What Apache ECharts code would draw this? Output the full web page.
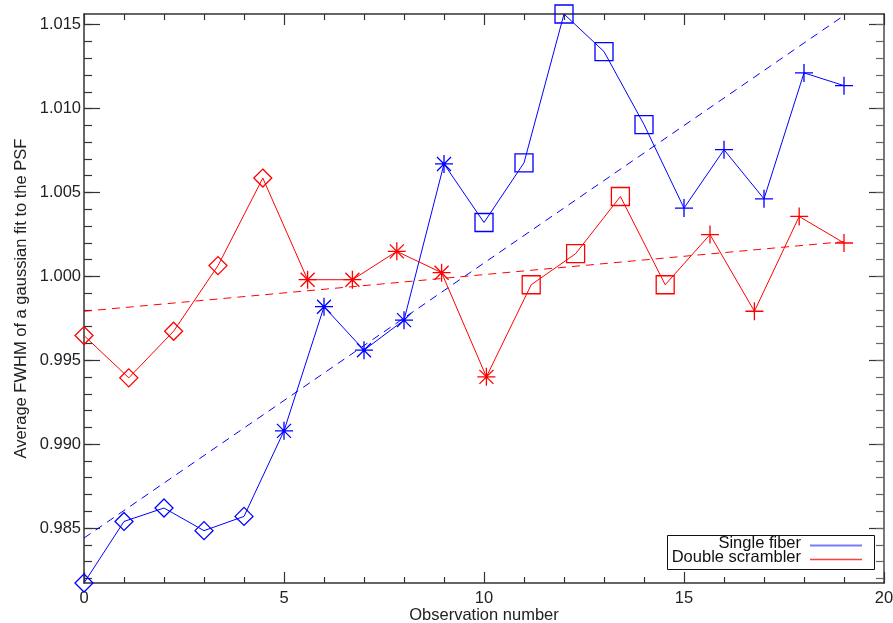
<!DOCTYPE html>
<html><head><meta charset="utf-8">
<script src="https://cdn.jsdelivr.net/npm/echarts@6/dist/echarts.min.js"></script>
<style>html,body{margin:0;padding:0;background:#fff}#c{width:893px;height:623px}</style>
</head><body><div id="c"></div>
<script>
// ---- data ----
const blueX = [0, 1, 2, 3, 4, 5, 6, 7, 8, 9, 10, 11, 12, 13, 14, 15, 16, 17, 18, 19];
const blueY = [0.98172, 0.98539, 0.98619, 0.98484, 0.98569, 0.99079, 0.99819, 0.99560, 0.99739, 1.00670,
               1.00321, 1.00677, 1.01564, 1.01340, 1.00905, 1.00407, 1.00755, 1.00462, 1.01213, 1.01137];
const blueMarkers = ['diamond','diamond','diamond','diamond','diamond',
                     'asterisk','asterisk','asterisk','asterisk','asterisk',
                     'square','square','square','square','square',
                     'plus','plus','plus','plus','plus'];
const redX = [0, 1.12, 2.24, 3.35, 4.47, 5.59, 6.71, 7.82, 8.94, 10.06, 11.18, 12.29, 13.41, 14.53, 15.65, 16.76, 17.88, 19];
const redY = [0.99647, 0.99395, 0.99673, 1.00064, 1.00586, 0.99980, 0.99980, 1.00149, 1.00022, 0.99401,
              0.99950, 1.00135, 1.00476, 0.99950, 1.00249, 0.99792, 1.00357, 1.00199];
const redMarkers = ['diamond','diamond','diamond','diamond','diamond',
                    'asterisk','asterisk','asterisk','asterisk','asterisk',
                    'square','square','square','square',
                    'plus','plus','plus','plus'];
const blueFitX = [0, 19];
const blueFitY = [0.98440, 1.01555];
const redFitX = [0, 19];
const redFitY = [0.99792, 1.00207];
const seriesNames = ['Single fiber', 'Double scrambler'];
const xTickValues = [0, 5, 10, 15, 20];
const xTickLabels = ['0', '5', '10', '15', '20'];
const yTickValues = [0.985, 0.990, 0.995, 1.000, 1.005, 1.010, 1.015];
const yTickLabels = ['0.985', '0.990', '0.995', '1.000', '1.005', '1.010', '1.015'];
const xTitle = 'Observation number';
const yTitle = 'Average FWHM of a gaussian fit to the PSF';
const yMin = 0.98172, yMax = 1.01564;

// ---- rendering ----
const yMinor = [];
for (let i = 982; i <= 1015; i++) yMinor.push(i / 1000);

const SYM = {
  diamond: 'path://M0,-9L9,0L0,9L-9,0Z',
  square: 'path://M-9,-9L9,-9L9,9L-9,9Z',
  plus: 'path://M-9,0L9,0M0,-9L0,9',
  asterisk: 'path://M-9,0L9,0M0,-9L0,9M-7,-7L7,7M-7,7L7,-7'
};
function pts(xs, ys, kinds) {
  return xs.map((x, i) => kinds ? { value: [x, ys[i]], symbol: SYM[kinds[i]] } : [x, ys[i]]);
}
function yLabel(v) {
  const i = yTickValues.findIndex(t => Math.abs(t - v) < 1e-7);
  return i >= 0 ? yTickLabels[i] : '';
}
function xLabel(v) {
  const i = xTickValues.findIndex(t => Math.abs(t - v) < 1e-7);
  return i >= 0 ? xTickLabels[i] : '';
}
const FONT = 'Liberation Sans, Arial, sans-serif';
const FS = 16.5;
const AX = '#333';

const chart = echarts.init(document.getElementById('c'), null, { renderer: 'canvas' });
const xBase = {
  type: 'value', min: 0, max: 20, interval: 5,
  splitLine: { show: false },
  axisLine: { show: true, onZero: false, lineStyle: { color: AX, width: 1.5 } },
  axisTick: { show: true, inside: true, length: 11, lineStyle: { color: AX, width: 1.2 } },
  minorTick: { show: true, splitNumber: 5, length: 6, lineStyle: { color: AX, width: 1.2 } }
};
const yBase = {
  type: 'value', min: yMin, max: yMax,
  splitLine: { show: false },
  axisLine: { show: false, onZero: false }
};
chart.setOption({
  animation: false,
  textStyle: { fontFamily: FONT },
  grid: { left: 84, right: 9, top: 14, bottom: 40, containLabel: false, outerBoundsMode: 'none' },
  xAxis: [
    Object.assign({}, xBase, {
      position: 'bottom',
      axisLabel: { show: true, margin: 7, fontSize: FS, color: '#222', fontFamily: FONT, formatter: xLabel }
    }),
    Object.assign({}, xBase, { position: 'top', axisLabel: { show: false } })
  ],
  yAxis: [
    Object.assign({}, yBase, {
      position: 'left',
      axisLine: { show: true, onZero: false, lineStyle: { color: AX, width: 1.5 } },
      axisTick: { show: true, inside: true, length: 16, customValues: yTickValues, lineStyle: { color: AX, width: 1.2 } },
      axisLabel: { show: true, margin: 3, fontSize: FS, color: '#222', fontFamily: FONT,
        customValues: yTickValues, formatter: yLabel }
    }),
    Object.assign({}, yBase, {
      position: 'left',
      axisTick: { show: true, inside: true, length: 8, customValues: yMinor, lineStyle: { color: AX, width: 1.2 } },
      axisLabel: { show: false }
    }),
    Object.assign({}, yBase, {
      position: 'right',
      axisLine: { show: true, onZero: false, lineStyle: { color: '#777', width: 2 } },
      axisTick: { show: true, inside: true, length: 15, customValues: yTickValues, lineStyle: { color: AX, width: 1.2 } },
      axisLabel: { show: false }
    }),
    Object.assign({}, yBase, {
      position: 'right',
      axisTick: { show: true, inside: true, length: 8, customValues: yMinor, lineStyle: { color: '#666', width: 1.2 } },
      axisLabel: { show: false }
    })
  ],
  series: [
    {
      name: seriesNames[0], type: 'line', data: pts(blueX, blueY, blueMarkers),
      symbolSize: 18, showAllSymbol: true, clip: false, z: 4,
      lineStyle: { color: '#0000ff', width: 1 },
      itemStyle: { color: 'rgba(0,0,0,0)', borderColor: '#0000ff', borderWidth: 1.3 },
      emphasis: { disabled: true }
    },
    {
      name: seriesNames[1], type: 'line', data: pts(redX, redY, redMarkers),
      symbolSize: 18, showAllSymbol: true, clip: false, z: 4,
      lineStyle: { color: '#ff0000', width: 1 },
      itemStyle: { color: 'rgba(0,0,0,0)', borderColor: '#ff0000', borderWidth: 1.3 },
      emphasis: { disabled: true }
    },
    {
      type: 'line', data: pts(blueFitX, blueFitY), symbol: 'none', z: 3,
      lineStyle: { color: '#0000ff', width: 1, type: [8, 6] }, emphasis: { disabled: true }
    },
    {
      type: 'line', data: pts(redFitX, redFitY), symbol: 'none', z: 3,
      lineStyle: { color: '#ff0000', width: 1, type: [8, 6] }, emphasis: { disabled: true }
    }
  ],
  graphic: [
    { type: 'text', x: 21, y: 298.5, rotation: Math.PI / 2,
      style: { text: yTitle, fill: '#222', font: FS + 'px ' + FONT, align: 'center', verticalAlign: 'middle' } },
    { type: 'text', x: 484, y: 615.5,
      style: { text: xTitle, fill: '#222', font: FS + 'px ' + FONT, align: 'center', verticalAlign: 'middle' } },
    { type: 'rect', shape: { x: 667.5, y: 535.5, width: 207, height: 34 },
      style: { fill: '#fff', stroke: '#111', lineWidth: 1 }, z: 10 },
    { type: 'text', x: 801, y: 543, z: 11,
      style: { text: seriesNames[0], fill: '#111', font: FS + 'px ' + FONT, align: 'right', verticalAlign: 'middle' } },
    { type: 'text', x: 801, y: 557.5, z: 11,
      style: { text: seriesNames[1], fill: '#111', font: FS + 'px ' + FONT, align: 'right', verticalAlign: 'middle' } },
    { type: 'line', shape: { x1: 810, y1: 545.5, x2: 862, y2: 545.5 }, z: 11,
      style: { stroke: '#7b7bff', lineWidth: 2 } },
    { type: 'line', shape: { x1: 810, y1: 559.5, x2: 862, y2: 559.5 }, z: 11,
      style: { stroke: '#ff4040', lineWidth: 1.5 } }
  ]
});
</script>
</body></html>
